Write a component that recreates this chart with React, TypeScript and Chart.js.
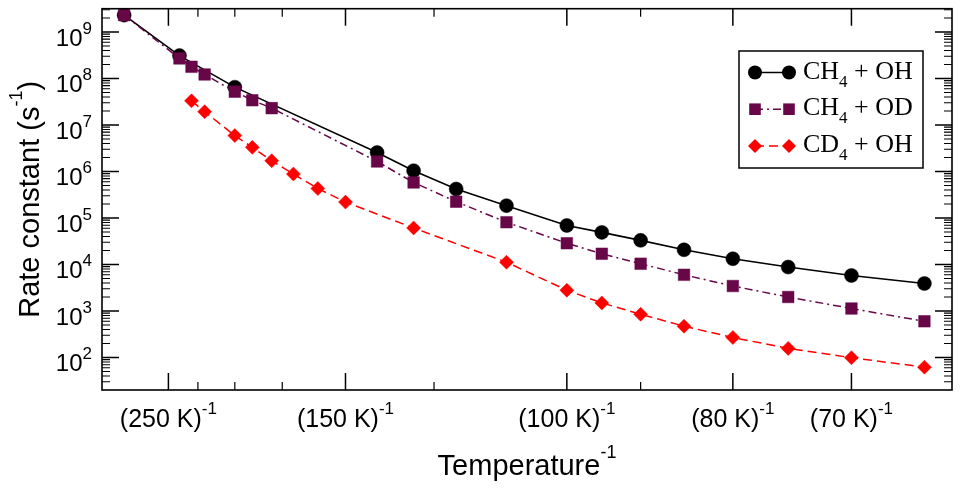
import { useEffect, useRef } from 'react';
import { Chart, registerables } from 'chart.js';

Chart.register(...registerables);

// temperatures in K, rate constants in s^-1
const ch4OhTemps = [300, 240, 200, 140, 130, 120, 110, 100, 95, 90, 85, 80, 75, 70, 65];
const ch4OhRates = [2.3e9, 3.1e8, 6.5e7, 2.55e6, 1.04e6, 4.2e5, 1.84e5, 6.9e4, 4.9e4, 3.3e4, 2.07e4, 1.33e4, 8.8e3, 5.8e3, 3.9e3];

const ch4OdTemps = [300, 240, 230, 220, 200, 190, 180, 140, 130, 120, 110, 100, 95, 90, 85, 80, 75, 70, 65];
const ch4OdRates = [2.3e9, 2.7e8, 1.78e8, 1.22e8, 5.2e7, 3.4e7, 2.3e7, 1.64e6, 5.8e5, 2.24e5, 8.1e4, 2.86e4, 1.7e4, 1.04e4, 6.0e3, 3.44e3, 2.0e3, 1.13e3, 6.0e2];

const cd4OhTemps = [230, 220, 200, 190, 180, 170, 160, 150, 130, 110, 100, 95, 90, 85, 80, 75, 70, 65];
const cd4OhRates = [3.3e7, 1.93e7, 5.9e6, 3.3e6, 1.7e6, 8.8e5, 4.3e5, 2.2e5, 6.1e4, 1.12e4, 2.8e3, 1.49e3, 850, 471, 269, 157, 99, 62];

const majorTickTemps = [250, 150, 100, 80, 70];
const minorTickTemps = [225, 200, 175, 125, 90];
const yExponents = [2, 3, 4, 5, 6, 7, 8, 9];

const SANS = '"Liberation Sans", Arial, Helvetica, sans-serif';
const SERIF = '"Liberation Serif", "Times New Roman", serif';
const MAROON = 'rgb(103, 7, 72)';
const RED = '#ff0000';

const toPoints = (temps: number[], rates: number[]) =>
  temps.map((t, i) => ({ x: 1000 / t, y: rates[i] }));

type Seg = { text: string; size: number; dy: number; font: string };

function segsWidth(ctx: CanvasRenderingContext2D, segs: Seg[]) {
  let w = 0;
  for (const s of segs) {
    ctx.font = `${s.size}px ${s.font}`;
    w += ctx.measureText(s.text).width;
  }
  return w;
}

function drawSegs(ctx: CanvasRenderingContext2D, segs: Seg[], x: number, y: number) {
  let cx = x;
  ctx.textAlign = 'left';
  ctx.textBaseline = 'alphabetic';
  for (const s of segs) {
    ctx.font = `${s.size}px ${s.font}`;
    ctx.fillText(s.text, cx, y + s.dy);
    cx += ctx.measureText(s.text).width;
  }
}

function drawMarker(ctx: CanvasRenderingContext2D, style: string, x: number, y: number, r: number) {
  ctx.beginPath();
  if (style === 'circle') {
    ctx.arc(x, y, r, 0, Math.PI * 2);
  } else if (style === 'rect') {
    const h = Math.SQRT1_2 * r;
    ctx.rect(x - h, y - h, 2 * h, 2 * h);
  } else {
    ctx.moveTo(x - r, y);
    ctx.lineTo(x, y - r);
    ctx.lineTo(x + r, y);
    ctx.lineTo(x, y + r);
    ctx.closePath();
  }
  ctx.fill();
}

const legendItems = [
  { a: 'CH', b: ' + OH', color: '#000000', dash: [] as number[], style: 'circle', r: 7 },
  { a: 'CH', b: ' + OD', color: MAROON, dash: [8, 4, 2, 4], style: 'rect', r: 8.2 },
  { a: 'CD', b: ' + OH', color: RED, dash: [9, 5], style: 'rectRot', r: 7 },
];

const framePlugin = {
  id: 'frame',
  afterDraw(chart: any) {
    const { ctx, chartArea } = chart;
    const { left, right, top, bottom } = chartArea;
    const xs = chart.scales.x;
    const ys = chart.scales.y;
    ctx.save();
    ctx.strokeStyle = '#000';
    ctx.fillStyle = '#000';

    // frame
    ctx.lineWidth = 1.6;
    ctx.strokeRect(left, top, right - left, bottom - top);

    // x ticks (top and bottom, inward)
    const xTick = (t: number, len: number) => {
      const px = xs.getPixelForValue(1000 / t);
      ctx.beginPath();
      ctx.moveTo(px, bottom);
      ctx.lineTo(px, bottom - len);
      ctx.moveTo(px, top);
      ctx.lineTo(px, top + len);
      ctx.stroke();
    };
    ctx.lineWidth = 1.5;
    majorTickTemps.forEach((t) => xTick(t, 17));
    ctx.lineWidth = 1.2;
    minorTickTemps.forEach((t) => xTick(t, 8));

    // y ticks (left and right, inward)
    const yTick = (v: number, len: number) => {
      const py = ys.getPixelForValue(v);
      ctx.beginPath();
      ctx.moveTo(left, py);
      ctx.lineTo(left + len, py);
      ctx.moveTo(right, py);
      ctx.lineTo(right - len, py);
      ctx.stroke();
    };
    ctx.lineWidth = 1.5;
    yExponents.forEach((e) => yTick(Math.pow(10, e), 17));
    ctx.lineWidth = 1.1;
    for (let e = 1; e <= 9; e++) {
      for (let k = 2; k <= 9; k++) {
        const v = k * Math.pow(10, e);
        if (v > ys.min && v < ys.max) yTick(v, 8);
      }
    }

    // x tick labels
    majorTickTemps.forEach((t) => {
      const px = xs.getPixelForValue(1000 / t);
      const segs: Seg[] = [
        { text: `(${t} K)`, size: 25, dy: 0, font: SANS },
        { text: '-1', size: 17, dy: -13, font: SANS },
      ];
      const w = segsWidth(ctx, segs);
      drawSegs(ctx, segs, px - w / 2, 427);
    });

    // y tick labels
    yExponents.forEach((e) => {
      const py = ys.getPixelForValue(Math.pow(10, e));
      const segs: Seg[] = [
        { text: '10', size: 24, dy: 0, font: SANS },
        { text: String(e), size: 17, dy: -12, font: SANS },
      ];
      const w = segsWidth(ctx, segs);
      drawSegs(ctx, segs, 92 - w, py + 14);
    });

    // x title
    const xt: Seg[] = [
      { text: 'Temperature', size: 29, dy: 0, font: SANS },
      { text: '-1', size: 18, dy: -17, font: SANS },
    ];
    const xw = segsWidth(ctx, xt);
    drawSegs(ctx, xt, (left + right) / 2 - xw / 2, 475);

    // y title
    const yt: Seg[] = [
      { text: 'Rate constant (s', size: 29, dy: 0, font: SANS },
      { text: '-1', size: 18, dy: -17, font: SANS },
      { text: ')', size: 29, dy: 0, font: SANS },
    ];
    const yw = segsWidth(ctx, yt);
    ctx.save();
    ctx.translate(39, (top + bottom) / 2);
    ctx.rotate(-Math.PI / 2);
    drawSegs(ctx, yt, -yw / 2, 0);
    ctx.restore();

    // legend
    ctx.fillStyle = '#fff';
    ctx.fillRect(739, 51, 184, 117);
    ctx.lineWidth = 1.5;
    ctx.strokeStyle = '#000';
    ctx.strokeRect(739, 51, 184, 117);
    legendItems.forEach((it, i) => {
      const ry = 72.5 + i * 36.7;
      ctx.strokeStyle = it.color;
      ctx.fillStyle = it.color;
      ctx.lineWidth = 1.5;
      ctx.setLineDash(it.dash);
      ctx.beginPath();
      ctx.moveTo(755, ry);
      ctx.lineTo(789, ry);
      ctx.stroke();
      ctx.setLineDash([]);
      drawMarker(ctx, it.style, 755, ry, it.r);
      drawMarker(ctx, it.style, 789, ry, it.r);
      ctx.fillStyle = '#000';
      drawSegs(
        ctx,
        [
          { text: it.a, size: 26, dy: 0, font: SERIF },
          { text: '4', size: 17, dy: 8, font: SERIF },
          { text: it.b, size: 26, dy: 0, font: SERIF },
        ],
        803,
        ry + 6
      );
    });
    ctx.restore();
  },
};

export default function App() {
  const chartRef = useRef<HTMLCanvasElement>(null);
  const chartInstanceRef = useRef<Chart | null>(null);

  useEffect(() => {
    document.body.style.margin = '0';
    if (!chartRef.current) return;
    const ctx = chartRef.current.getContext('2d');
    if (!ctx) return;

    if (chartInstanceRef.current) {
      chartInstanceRef.current.destroy();
    }

    chartInstanceRef.current = new Chart(ctx, {
      type: 'line',
      data: {
        datasets: [
          {
            label: 'CD4 + OH',
            data: toPoints(cd4OhTemps, cd4OhRates),
            borderColor: RED,
            backgroundColor: RED,
            borderWidth: 1.5,
            borderDash: [9, 5],
            pointStyle: 'rectRot',
            pointRadius: 7,
            pointBorderWidth: 0.5,
            tension: 0,
            order: 0,
          },
          {
            label: 'CH4 + OD',
            data: toPoints(ch4OdTemps, ch4OdRates),
            borderColor: MAROON,
            backgroundColor: MAROON,
            borderWidth: 1.5,
            borderDash: [8, 4, 2, 4],
            pointStyle: 'rect',
            pointRadius: 8.2,
            pointBorderWidth: 0.5,
            tension: 0,
            order: 1,
          },
          {
            label: 'CH4 + OH',
            data: toPoints(ch4OhTemps, ch4OhRates),
            borderColor: '#000000',
            backgroundColor: '#000000',
            borderWidth: 1.6,
            pointStyle: 'circle',
            pointRadius: 7,
            pointBorderWidth: 0.5,
            tension: 0,
            order: 2,
          },
        ],
      },
      options: {
        responsive: true,
        maintainAspectRatio: false,
        animation: false,
        layout: {
          padding: { left: 102, top: 7, right: 9, bottom: 99 },
        },
        plugins: {
          legend: { display: false },
          tooltip: { enabled: false },
        },
        scales: {
          x: {
            type: 'linear',
            display: false,
            min: 3.0,
            max: 15.8,
          },
          y: {
            type: 'logarithmic',
            display: false,
            min: 20,
            max: Math.pow(10, 9.5),
          },
        },
      },
      plugins: [framePlugin],
    });

    return () => {
      if (chartInstanceRef.current) {
        chartInstanceRef.current.destroy();
        chartInstanceRef.current = null;
      }
    };
  }, []);

  return (
    <div style={{ width: 961, height: 489, position: 'relative', background: '#fff' }}>
      <canvas ref={chartRef} />
    </div>
  );
}
